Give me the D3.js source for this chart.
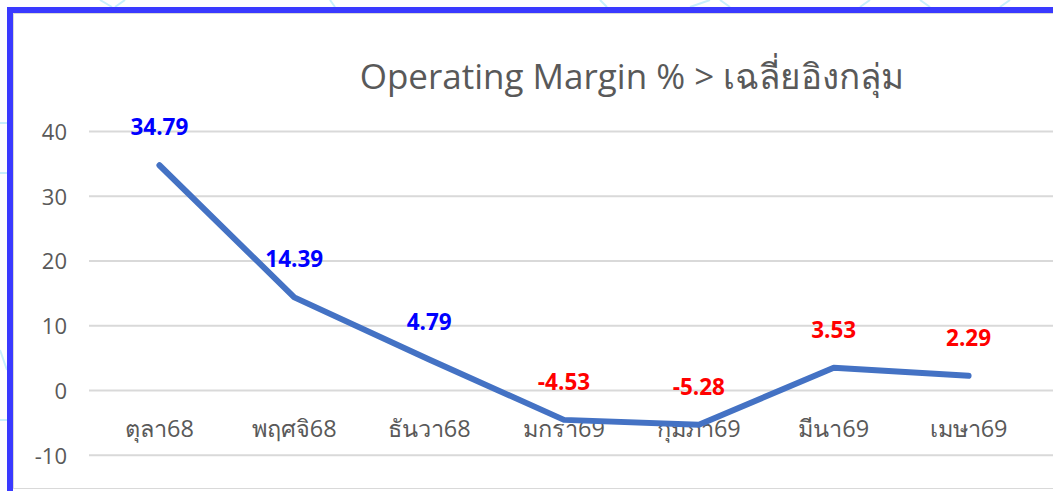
<!DOCTYPE html>
<html>
<head>
<meta charset="utf-8">
<script src="https://cdn.jsdelivr.net/npm/d3@7"></script>
<style>
  body { margin: 0; background: #fff; }
  svg { display: block; }
  text { font-family: "Open Sans", "Noto Sans", "DejaVu Sans", sans-serif; }
</style>
</head>
<body>
<script>
// chart data
var months = ["ตุลา68", "พฤศจิ68", "ธันวา68", "มกรา69", "กุมภา69", "มีนา69", "เมษา69"];
var margin = [34.79, 14.39, 4.79, -4.53, -5.28, 3.53, 2.29];
var yTicks = [-10, 0, 10, 20, 30, 40];
var title = "Operating Margin % > เฉลี่ยอิงกลุ่ม";

var W = 1053, H = 491;
var svg = d3.select("body").append("svg").attr("width", W).attr("height", H);

// faint watermark strokes outside the frame
var wm = svg.append("g").attr("stroke", "#c8f0fb").attr("stroke-width", 2).attr("fill", "none");
[[100, 0, 112, 7], [115, 7, 125, 0], [330, 0, 335, 7], [600, 0, 607, 7], [690, 7, 710, 0], [720, 0, 730, 7],
 [860, 7, 870, 0], [920, 0, 930, 7], [1000, 7, 1010, 0], [0, 123, 7, 123], [0, 173, 7, 173], [0, 350, 7, 370], [0, 420, 7, 420]]
  .forEach(function(s) { wm.append("line").attr("x1", s[0]).attr("y1", s[1]).attr("x2", s[2]).attr("y2", s[3]); });

// chart frame
svg.append("rect").attr("x", 13.5).attr("y", 13.5).attr("width", W).attr("height", 475)
  .attr("fill", "#fff").attr("stroke", "#d9d9d9").attr("stroke-width", 1);
svg.append("path").attr("d", "M10,491 V10 H" + (W + 5))
  .attr("fill", "none").attr("stroke", "#3a3aff").attr("stroke-width", 6);

var x = d3.scaleBand().domain(months).range([92, 1036]);
var y = d3.scaleLinear().domain([-10, 40]).range([455.3, 131.5]);

// gridlines
svg.append("g").selectAll("line").data(yTicks).join("line")
  .attr("x1", 89).attr("x2", W)
  .attr("y1", function(d) { return y(d); }).attr("y2", function(d) { return y(d); })
  .attr("stroke", "#d9d9d9").attr("stroke-width", 2);

// y axis labels
var yAxis = d3.axisLeft(y).tickValues(yTicks).tickSize(0).tickPadding(0)
  .tickFormat(function(d) { return String(d); });
var gy = svg.append("g").attr("transform", "translate(67,0)").call(yAxis);
gy.select(".domain").remove();
gy.selectAll("text").attr("font-size", 22).attr("fill", "#595959").attr("dy", "0.36em")
  .style("font-family", '"Open Sans", sans-serif');

// x axis labels
svg.append("g").selectAll("text").data(months).join("text")
  .attr("x", function(d) { return x(d) + x.bandwidth() / 2; })
  .attr("y", 437)
  .attr("text-anchor", "middle")
  .attr("font-size", 23.5).attr("fill", "#595959")
  .text(function(d) { return d; });

// title
svg.append("text").attr("x", 632).attr("y", 89).attr("text-anchor", "middle")
  .attr("font-size", 35).attr("fill", "#595959").text(title);

// line
var pts = months.map(function(m, i) { return [x(m) + x.bandwidth() / 2, y(margin[i])]; });
svg.append("path").datum(pts)
  .attr("d", d3.line())
  .attr("fill", "none").attr("stroke", "#4472c4").attr("stroke-width", 6)
  .attr("stroke-linejoin", "round").attr("stroke-linecap", "round");

// data labels: blue for year 68, red for year 69
svg.append("g").selectAll("text").data(months).join("text")
  .attr("x", function(d) { return x(d) + x.bandwidth() / 2; })
  .attr("y", function(d, i) { return y(margin[i]) - 30; })
  .attr("text-anchor", "middle")
  .attr("font-size", 22.5).attr("font-weight", "bold")
  .attr("fill", function(d) { return d.slice(-2) == "68" ? "#0000ff" : "#ff0000"; })
  .text(function(d, i) { return margin[i].toFixed(2); });
</script>
</body>
</html>
